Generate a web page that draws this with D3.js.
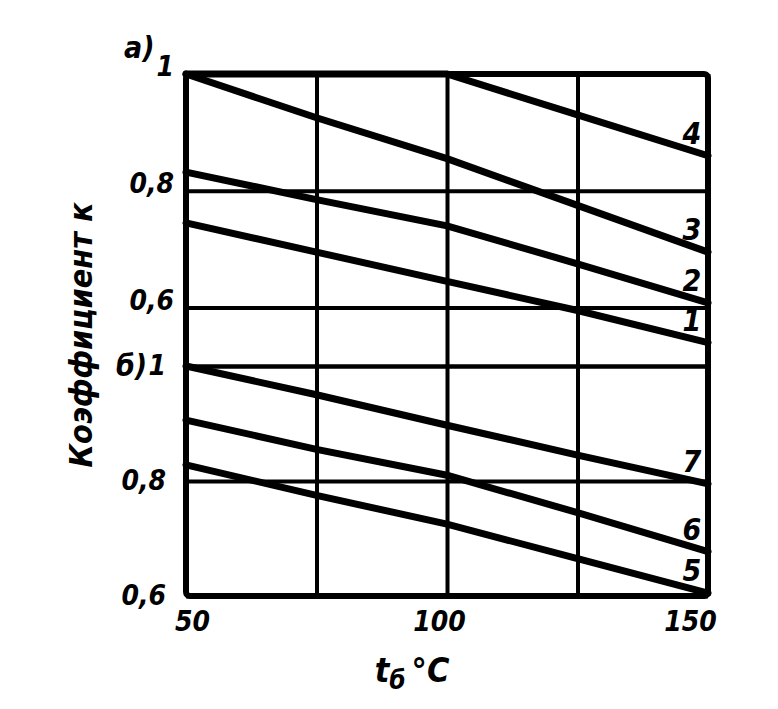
<!DOCTYPE html>
<html>
<head>
  <title>Коэффициент к</title>
  <style>
    body { margin: 0; background: #fff; }
    text {
      font-family: "DejaVu Sans Condensed", "DejaVu Sans", sans-serif;
      font-weight: bold;
      font-style: italic;
      fill: #000;
    }
    .grid line { stroke: #000; stroke-width: 4px; }
    .grid path { display: none; }
    .curve { fill: none; stroke: #000; stroke-width: 7px; stroke-linecap: round; }
  </style>
</head>
<body>
  <svg id="chart"></svg>

  <script src="https://d3js.org/d3.v7.min.js"></script>
  <script>
    // temperature, deg C
    var temps = [50, 75, 100, 125, 150];
    var xTickLabels = [50, 100, 150];

    // panel a) curves 1-4
    var curve1 = [0.745, 0.695, 0.645, 0.595, 0.54];
    var curve2 = [0.832, 0.785, 0.74, 0.675, 0.608];
    var curve3 = [1.0, 0.925, 0.855, 0.775, 0.695];
    var curve4 = [1.0, 1.0, 1.0, 0.93, 0.86];

    // panel б) curves 5-7
    var curve5 = [0.828, 0.775, 0.725, 0.665, 0.605];
    var curve6 = [0.906, 0.855, 0.81, 0.745, 0.677];
    var curve7 = [1.0, 0.95, 0.897, 0.845, 0.795];

    var yTicksA = [1, 0.8, 0.6];
    var yTicksB = [1, 0.8, 0.6];

    var width = 778;
    var height = 709;

    var svg = d3.select("#chart")
      .attr("width", width)
      .attr("height", height);

    var x = d3.scaleLinear().domain([50, 150]).range([186, 708]);
    var yA = d3.scaleLinear().domain([0.5, 1]).range([366, 74]);
    var yB = d3.scaleLinear().domain([0.6, 1]).range([596, 366]);

    var fmt = function(d) { return d === 1 ? "1" : String(d).replace(".", ","); };

    // vertical grid + x labels
    svg.append("g")
      .attr("class", "grid")
      .attr("transform", "translate(0,596)")
      .call(d3.axisBottom(x).tickValues(temps).tickSize(-522).tickSizeOuter(0)
        .tickFormat(function(d) { return xTickLabels.includes(d) ? d : ""; }))
      .call(function(g) {
        g.selectAll("text").attr("dy", 32).style("font-size", "28px").attr("dx", function(d) { return d === 50 ? 6 : (d === 150 ? -18 : -8); });
      });

    // horizontal grid, panel a
    svg.append("g")
      .attr("class", "grid")
      .attr("transform", "translate(186,0)")
      .call(d3.axisLeft(yA).tickValues([1, 0.8, 0.6, 0.5]).tickSize(-522).tickPadding(12)
        .tickFormat(function(d) { return yTicksA.includes(d) ? fmt(d) : ""; }))
      .call(function(g) {
        g.selectAll("text").style("font-size", "28px").attr("dy", "0.05em");
      });

    // horizontal grid, panel b
    svg.append("g")
      .attr("class", "grid")
      .attr("transform", "translate(186,0)")
      .call(d3.axisLeft(yB).tickValues(yTicksB).tickSize(-522).tickPadding(20)
        .tickFormat(fmt))
      .call(function(g) {
        g.selectAll("text").style("font-size", "28px").attr("dy", "0.3em");
      });

    // frame
    svg.append("rect")
      .attr("x", x(50)).attr("y", yA(1))
      .attr("width", x(150) - x(50)).attr("height", yB(0.6) - yA(1))
      .attr("rx", 4)
      .attr("fill", "none").attr("stroke", "#000").attr("stroke-width", 6);

    var lineA = d3.line().x(function(d, i) { return x(temps[i]); }).y(function(d) { return yA(d); });
    var lineB = d3.line().x(function(d, i) { return x(temps[i]); }).y(function(d) { return yB(d); });

    var curvesA = [["1", curve1], ["2", curve2], ["3", curve3], ["4", curve4]];
    var curvesB = [["5", curve5], ["6", curve6], ["7", curve7]];

    curvesA.forEach(function(c) {
      svg.append("path").attr("class", "curve").attr("d", lineA(c[1]));
      svg.append("text").attr("x", x(150) - 16).attr("y", yA(c[1][4]) - 12)
        .attr("text-anchor", "middle").style("font-size", "30px").text(c[0]);
    });
    curvesB.forEach(function(c) {
      svg.append("path").attr("class", "curve").attr("d", lineB(c[1]));
      svg.append("text").attr("x", x(150) - 16).attr("y", yB(c[1][4]) - 12)
        .attr("text-anchor", "middle").style("font-size", "30px").text(c[0]);
    });

    // panel letters
    svg.append("text").attr("x", 124).attr("y", 58).style("font-size", "30px").text("а)");
    svg.append("text").attr("x", 116).attr("y", 376).style("font-size", "30px").text("б)");

    // axis titles
    svg.append("text")
      .attr("transform", "translate(92,335) rotate(-90)")
      .attr("text-anchor", "middle")
      .style("font-size", "32px")
      .text("Коэффициент к");

    var xt = svg.append("text").attr("x", 412).attr("y", 682).attr("text-anchor", "middle").style("font-size", "34px");
    xt.append("tspan").text("t");
    xt.append("tspan").attr("dy", 7).style("font-size", "26px").text("б");
    xt.append("tspan").attr("dy", -7).attr("dx", 6).text("°C");
  </script>
</body>
</html>
